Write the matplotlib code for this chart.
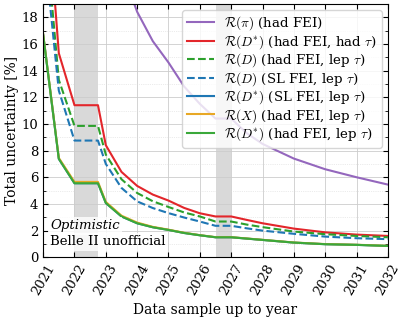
import matplotlib
matplotlib.use('Agg')
import matplotlib.pyplot as plt
from matplotlib.ticker import MultipleLocator

# ==========================================
# Projected total uncertainty vs. data sample year
# ==========================================
plt.rcParams['font.family'] = 'DejaVu Serif'
plt.rcParams['mathtext.fontset'] = 'cm'
plt.rcParams['xtick.direction'] = 'in'
plt.rcParams['ytick.direction'] = 'in'
plt.rcParams['xtick.top'] = True
plt.rcParams['ytick.right'] = True

years = [2021, 2021.5, 2022, 2022.75, 2023, 2023.5, 2024, 2024.5, 2025, 2025.5,
         2026, 2026.5, 2027, 2027.5, 2028, 2029, 2030, 2031, 2032]
years_pi = years[5:]

r_pi = [21.6, 18.4, 16.2, 14.6, 12.8, 11.5, 10.4, 10.4, 9.3, 8.5, 7.4, 6.6, 6.0, 5.45]
r_dst_had_had = [30.8, 15.3, 11.4, 11.4, 8.4, 6.4, 5.35, 4.7, 4.25, 3.7,
                 3.3, 3.06, 3.06, 2.8, 2.55, 2.15, 1.87, 1.7, 1.6]
r_d_had_lep = [26.3, 13.3, 9.85, 9.85, 7.7, 5.85, 4.82, 4.2, 3.77, 3.36,
               3.06, 2.68, 2.68, 2.45, 2.26, 1.93, 1.73, 1.6, 1.5]
r_d_sl_lep = [24.0, 12.5, 8.75, 8.75, 7.0, 5.2, 4.19, 3.69, 3.31, 2.98,
              2.68, 2.36, 2.36, 2.17, 2.0, 1.76, 1.55, 1.43, 1.36]
r_dst_sl_lep = [16.7, 7.38, 5.55, 5.55, 4.07, 3.06, 2.55, 2.25, 2.05, 1.82,
                1.65, 1.5, 1.5, 1.4, 1.3, 1.1, 0.98, 0.93, 0.85]
r_x_had_lep = [16.75, 7.45, 5.65, 5.65, 4.15, 3.12, 2.6, 2.28, 2.07, 1.84,
               1.66, 1.51, 1.51, 1.41, 1.31, 1.11, 0.99, 0.94, 0.86]
r_dst_had_lep = [16.7, 7.38, 5.55, 5.55, 4.07, 3.06, 2.55, 2.25, 2.05, 1.82,
                 1.65, 1.5, 1.5, 1.4, 1.3, 1.1, 0.98, 0.93, 0.85]

shutdowns = [(2022, 2022.75), (2026.5, 2027)]
year_ticks = list(range(2021, 2033))

fig = plt.figure(figsize=(4.07, 3.2), dpi=100)
ax = fig.add_axes([0.106, 0.196, 0.847, 0.792])

for a, b in shutdowns:
    ax.axvspan(a, b, color='0.85', lw=0, zorder=0)

ax.plot(years_pi, r_pi, color='#9467bd', lw=1.5, label=r'$\mathcal{R}(\pi)$ (had FEI)')
ax.plot(years, r_dst_had_had, color='#e3262b', lw=1.5, label=r'$\mathcal{R}(D^{*})$ (had FEI, had $\tau$)')
ax.plot(years, r_d_had_lep, color='#2ca02c', lw=1.5, ls='--', label=r'$\mathcal{R}(D)$ (had FEI, lep $\tau$)')
ax.plot(years, r_d_sl_lep, color='#1f77b4', lw=1.5, ls='--', label=r'$\mathcal{R}(D)$ (SL FEI, lep $\tau$)')
ax.plot(years, r_dst_sl_lep, color='#1f77b4', lw=1.5, label=r'$\mathcal{R}(D^{*})$ (SL FEI, lep $\tau$)')
ax.plot(years, r_x_had_lep, color='#e8a825', lw=1.5, label=r'$\mathcal{R}(X)$ (had FEI, lep $\tau$)')
ax.plot(years, r_dst_had_lep, color='#3aa83a', lw=1.5, label=r'$\mathcal{R}(D^{*})$ (had FEI, lep $\tau$)')

ax.set_xlim(2021, 2032)
ax.set_ylim(0, 19)
ax.set_xticks(year_ticks)
ax.set_xticklabels([str(y) for y in year_ticks], rotation=60, fontsize=9.5)
ax.yaxis.set_major_locator(MultipleLocator(2))
ax.yaxis.set_minor_locator(MultipleLocator(1))
ax.tick_params(axis='y', labelsize=9.5)
ax.tick_params(which='major', length=3.5, width=0.8)
ax.tick_params(which='minor', length=2, width=0.6)
ax.grid(True, which='major', color='0.8', lw=0.6, ls='-')
ax.grid(True, which='minor', axis='y', color='0.85', lw=0.5, ls=':')
ax.set_axisbelow(True)

ax.set_xlabel('Data sample up to year', fontsize=10)
ax.set_ylabel('Total uncertainty [%]', fontsize=10, labelpad=2)

ax.legend(loc='upper right', fontsize=9.6, framealpha=0.8, handlelength=2.0,
          borderpad=0.35, labelspacing=0.05, borderaxespad=0.45)

ax.text(2021.22, 2.35, 'Optimistic', fontsize=9.5, style='italic', va='center',
        bbox=dict(facecolor='white', edgecolor='none', alpha=0.8, pad=1.5))
ax.text(2021.22, 1.15, 'Belle II unofficial', fontsize=9.5, va='center',
        bbox=dict(facecolor='white', edgecolor='none', alpha=0.8, pad=1.5))

plt.savefig('out.png', dpi=100)
plt.close(fig)
